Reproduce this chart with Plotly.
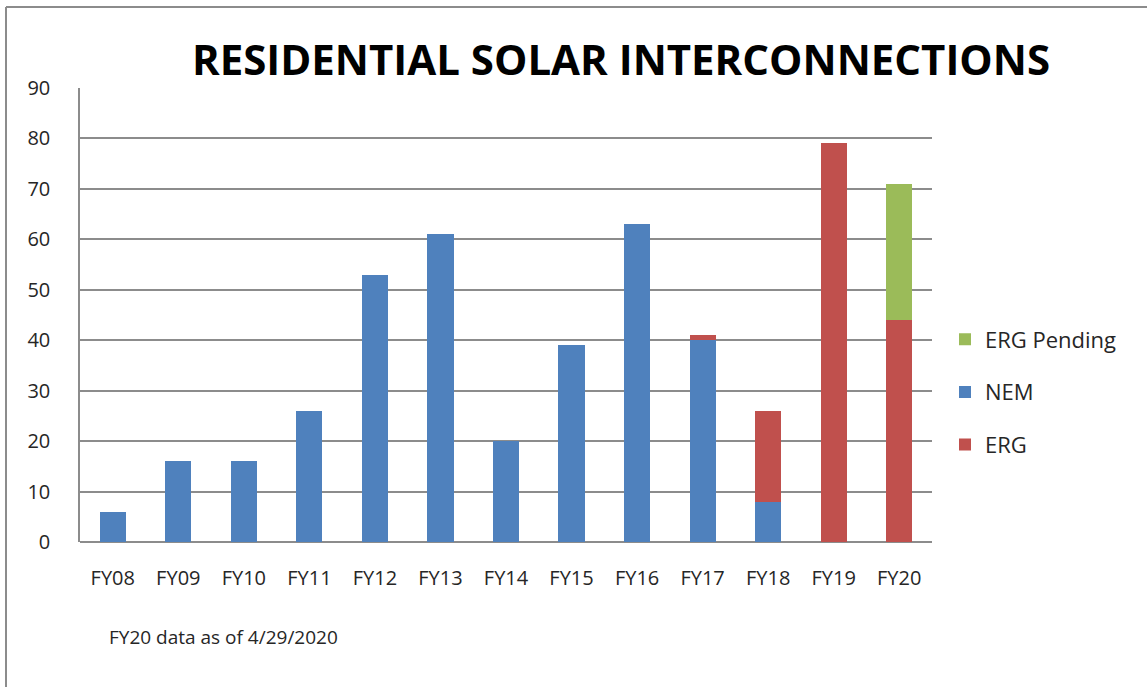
import plotly.graph_objects as go

categories = ["FY08", "FY09", "FY10", "FY11", "FY12", "FY13", "FY14",
              "FY15", "FY16", "FY17", "FY18", "FY19", "FY20"]
nem = [6, 16, 16, 26, 53, 61, 20, 39, 63, 40, 8, 0, 0]
erg = [0, 0, 0, 0, 0, 0, 0, 0, 0, 1, 18, 79, 44]
erg_pending = [0, 0, 0, 0, 0, 0, 0, 0, 0, 0, 0, 0, 27]

W, H = 1147, 687
L, R, T, B = 80, 932, 88, 542

def px_x(p):
    return (p - L) / (R - L)

def px_y(p):
    return (B - p) / (B - T)

fig = go.Figure()
fig.add_trace(go.Bar(x=categories, y=nem, name="NEM", marker_color="#4F81BD",
                     marker_line_width=0, legendgroup="b", legendrank=2))
fig.add_trace(go.Bar(x=categories, y=erg, name="ERG", marker_color="#C0504D",
                     marker_line_width=0, legendgroup="c", legendrank=3))
fig.add_trace(go.Bar(x=categories, y=erg_pending, name="ERG Pending", marker_color="#9BBB59",
                     marker_line_width=0, legendgroup="a", legendrank=1))

fig.update_layout(
    width=W, height=H,
    barmode="stack", bargap=0.6,
    paper_bgcolor="white", plot_bgcolor="white",
    margin=dict(l=L, r=W - R, t=T, b=H - B),
    font=dict(family="Open Sans, Noto Sans, sans-serif", color="#262626"),
    title=dict(text="<b>RESIDENTIAL SOLAR INTERCONNECTIONS</b>",
               x=621 / W, xanchor="center", y=1 - 60 / H, yanchor="middle",
               xref="container", yref="container",
               font=dict(size=42, color="#000000", family="Open Sans, sans-serif")),
    showlegend=True,
    legend=dict(x=px_x(945), xanchor="left", y=px_y(392), yanchor="middle",
                font=dict(size=22), traceorder="grouped", tracegroupgap=21,
                bgcolor="rgba(0,0,0,0)"),
    xaxis=dict(showgrid=False, showline=False, ticks="", zeroline=False,
               tickfont=dict(size=20), ticklabelstandoff=22),
    yaxis=dict(range=[0, 90], dtick=10, showgrid=True, gridcolor="#8C8C8C", gridwidth=1.5,
               showline=True, linecolor="#8C8C8C", linewidth=1.5,
               zeroline=True, zerolinecolor="#8C8C8C", zerolinewidth=1.5,
               ticks="", tickfont=dict(size=20), ticklabelstandoff=24),
    shapes=[
        dict(type="line", xref="paper", yref="paper",
             x0=px_x(6), x1=px_x(1160), y0=px_y(7), y1=px_y(7),
             line=dict(color="#8C8C8C", width=2)),
        dict(type="line", xref="paper", yref="paper",
             x0=px_x(6), x1=px_x(6), y0=px_y(7), y1=px_y(700),
             line=dict(color="#8C8C8C", width=2)),
    ],
    annotations=[
        dict(text="FY20 data as of 4/29/2020", xref="paper", yref="paper",
             x=px_x(107), y=px_y(637), xanchor="left", yanchor="middle",
             showarrow=False, font=dict(size=19, color="#262626")),
    ],
)

fig.write_html("out.html")
